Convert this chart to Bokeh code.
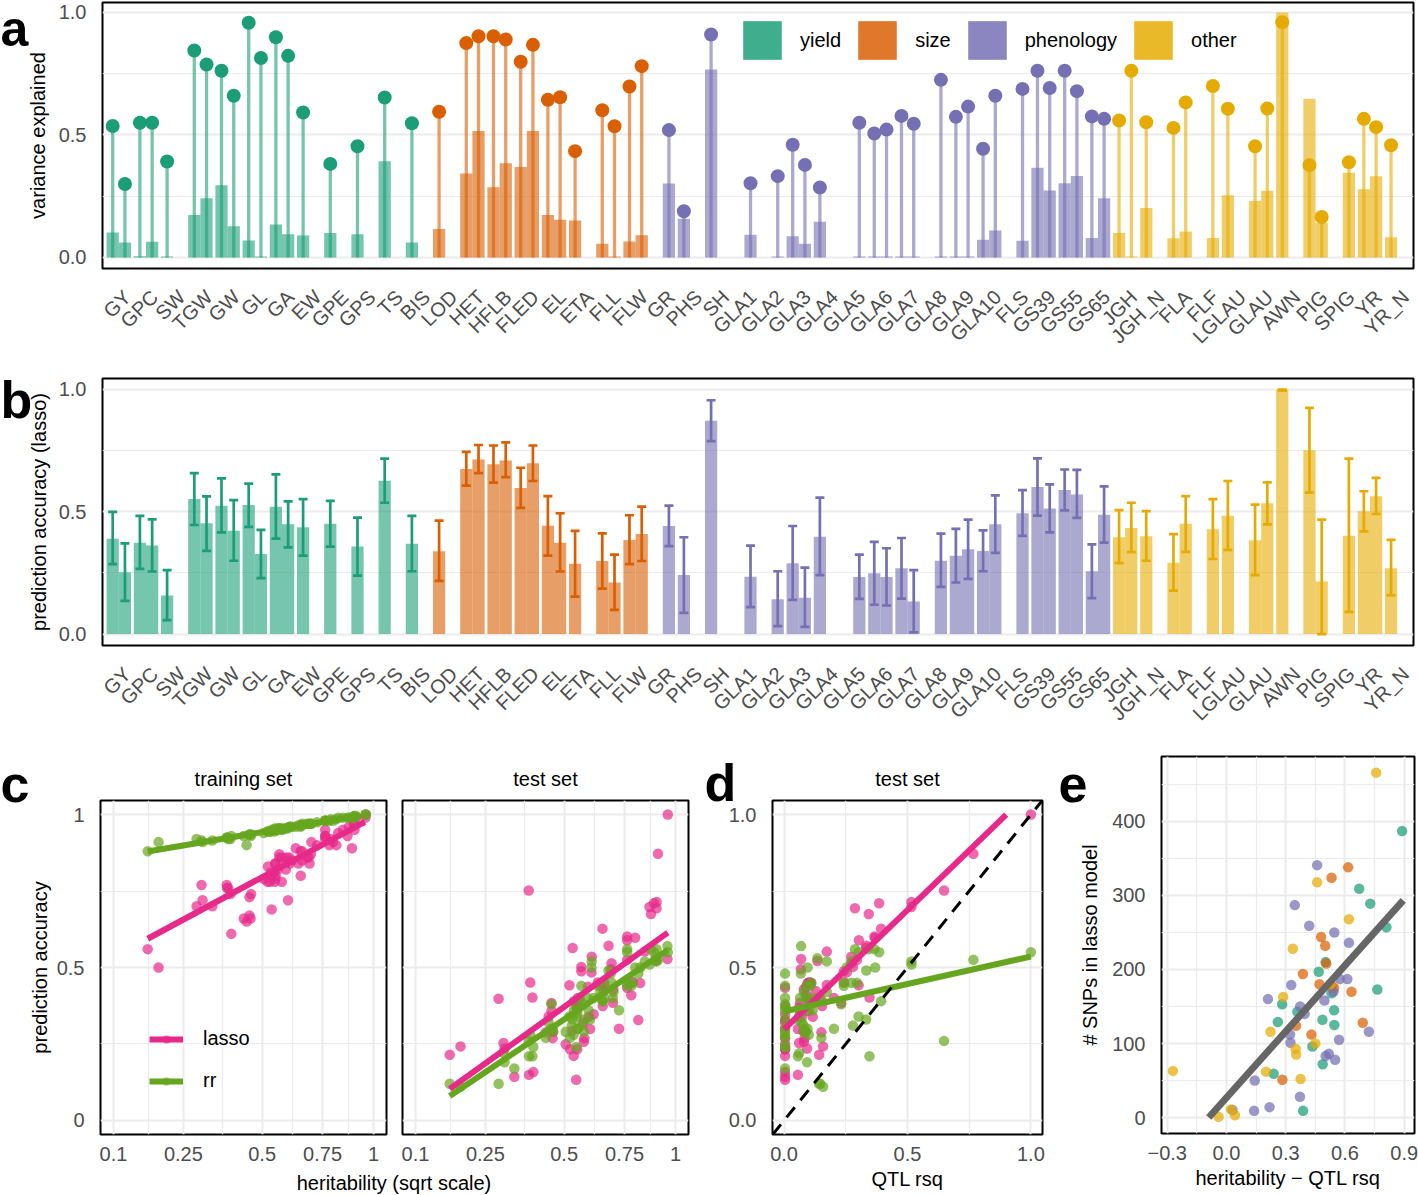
import numpy as np
from bokeh.plotting import figure
from bokeh.models import (ColumnDataSource, Range1d, FixedTicker, Label, Slope, Legend, LegendItem)
from bokeh.layouts import column, row
from bokeh.embed import file_html
from bokeh.resources import INLINE

N = None  # replicate not available

# ---------------- data ----------------
traits = ["GY", "GPC", "SW", "TGW", "GW", "GL", "GA", "EW", "GPE", "GPS", "TS", "BIS",
          "LOD", "HET", "HFLB", "FLED", "EL", "ETA", "FLL", "FLW",
          "GR", "PHS", "SH", "GLA1", "GLA2", "GLA3", "GLA4", "GLA5", "GLA6", "GLA7", "GLA8",
          "GLA9", "GLA10", "FLS", "GS39", "GS55", "GS65",
          "JGH", "JGH_N", "FLA", "FLF", "LGLAU", "GLAU", "AWN", "PIG", "SPIG", "YR", "YR_N"]
trait_group = ["yield"] * 12 + ["size"] * 8 + ["phenology"] * 17 + ["other"] * 11
groups = ["yield", "size", "phenology", "other"]

# heritability (variance explained, lollipops), replicate 1 and 2
herit_r1 = [0.537, 0.55, 0.392, 0.845, 0.762, 0.958, 0.899, 0.592, 0.382, 0.454, 0.653, 0.548,
            0.595, 0.875, 0.903, 0.799, 0.644, 0.434, 0.601, 0.698,
            N, 0.189, 0.91, N, N, 0.46, 0.286, N, 0.506, 0.578, N, 0.574, 0.444, N, 0.762, 0.762, 0.576,
            0.559, 0.552, 0.529, N, 0.607, 0.454, 0.96, 0.377, N, 0.566, 0.458]
herit_r2 = [0.30, 0.55, N, 0.788, 0.66, 0.814, 0.823, N, N, N, N, N,
            N, 0.903, 0.89, 0.868, 0.654, N, 0.536, 0.781,
            0.52, N, N, 0.303, 0.332, 0.378, N, 0.55, 0.522, 0.546, 0.725, 0.616, 0.66, 0.688, 0.692, 0.679, 0.566,
            0.762, N, 0.633, 0.70, N, 0.608, N, 0.165, 0.389, 0.532, N]
# QTL rsq (bars in a)
qtl_r1 = [0.102, 0.005, 0.004, 0.173, 0.295, 0.069, 0.135, 0.09, 0.10, 0.095, 0.393, 0.061,
          0.116, 0.343, 0.287, 0.369, 0.173, 0.151, 0.056, 0.065,
          N, 0.158, 0.767, N, N, 0.087, 0.146, N, 0.004, 0.004, N, 0.004, 0.072, N, 0.366, 0.303, 0.08,
          0.10, 0.202, 0.079, N, 0.254, 0.231, 1.0, 0.648, N, 0.279, 0.083]
qtl_r2 = [0.061, 0.064, N, 0.242, 0.128, 0.004, 0.095, N, N, N, N, N,
          N, 0.516, 0.385, 0.516, 0.154, N, 0.004, 0.091,
          0.302, N, N, 0.093, 0.004, 0.056, N, 0.004, 0.004, 0.004, 0.004, 0.004, 0.11, 0.068, 0.273, 0.333, 0.242,
          0.004, N, 0.106, 0.08, N, 0.272, N, 0.142, 0.346, 0.332, N]
# lasso test-set prediction accuracy with interval (b)
acc_r1 = [0.39, 0.374, 0.158, 0.552, 0.525, 0.528, 0.521, 0.437, 0.451, 0.358, 0.627, 0.369,
          0.339, 0.675, 0.694, 0.597, 0.443, 0.288, 0.299, 0.385,
          N, 0.242, 0.872, N, N, 0.29, 0.398, N, 0.249, 0.269, N, 0.32, 0.34, N, 0.601, 0.589, 0.257,
          0.396, 0.40, 0.292, N, 0.484, 0.384, 1.0, 0.752, N, 0.502, 0.269]
acc_lo_r1 = [0.286, 0.267, 0.057, 0.446, 0.416, 0.438, 0.39, 0.321, 0.358, 0.239, 0.537, 0.257,
             0.218, 0.607, 0.619, 0.516, 0.321, 0.153, 0.186, 0.286,
             N, 0.087, 0.789, N, N, 0.14, 0.241, N, 0.12, 0.145, N, 0.211, 0.257, N, 0.484, 0.506, 0.147,
             0.29, 0.30, 0.178, N, 0.344, 0.241, 0.995, 0.578, N, 0.42, 0.158]
acc_hi_r1 = [0.50, 0.483, 0.262, 0.658, 0.637, 0.615, 0.653, 0.552, 0.545, 0.476, 0.717, 0.483,
             0.464, 0.745, 0.771, 0.68, 0.564, 0.422, 0.412, 0.486,
             N, 0.396, 0.956, N, N, 0.442, 0.558, N, 0.377, 0.393, N, 0.43, 0.424, N, 0.718, 0.673, 0.367,
             0.507, 0.503, 0.409, N, 0.626, 0.529, 1.0, 0.925, N, 0.584, 0.385]
acc_r2 = [0.253, 0.362, N, 0.453, 0.423, 0.328, 0.449, N, N, N, N, N,
          N, 0.714, 0.71, 0.698, 0.374, N, 0.211, 0.409,
          0.442, N, N, 0.235, 0.143, 0.149, N, 0.233, 0.233, 0.133, 0.30, 0.347, 0.449, 0.494, 0.514, 0.571, 0.488,
          0.434, N, 0.451, 0.429, N, 0.535, N, 0.215, 0.402, 0.564, N]
acc_lo_r2 = [0.136, 0.256, N, 0.34, 0.30, 0.229, 0.355, N, N, N, N, N,
             N, 0.658, 0.642, 0.626, 0.256, N, 0.099, 0.299,
             0.36, N, N, 0.11, 0.033, 0.03, N, 0.144, 0.117, 0.007, 0.193, 0.226, 0.332, 0.402, 0.416, 0.475, 0.374,
             0.335, N, 0.336, 0.307, N, 0.449, N, 0.0, 0.091, 0.491, N]
acc_hi_r2 = [0.371, 0.469, N, 0.563, 0.548, 0.426, 0.543, N, N, N, N, N,
             N, 0.773, 0.784, 0.771, 0.494, N, 0.325, 0.521,
             0.525, N, N, 0.362, 0.257, 0.272, N, 0.325, 0.351, 0.262, 0.411, 0.468, 0.567, 0.589, 0.612, 0.671, 0.604,
             0.537, N, 0.564, 0.552, N, 0.62, N, 0.468, 0.717, 0.639, N]
# ridge regression test-set accuracy
rr_test_r1 = [0.36, 0.37, 0.24, 0.52, 0.45, 0.57, 0.53, 0.40, 0.28, 0.30, 0.39, 0.34,
              0.36, 0.56, 0.56, 0.50, 0.42, 0.27, 0.33, 0.40,
              N, 0.11, 0.525, N, N, 0.29, 0.12, N, 0.29, 0.33, N, 0.38, 0.32, N, 0.56, 0.55, 0.29,
              0.40, 0.30, 0.31, N, 0.50, 0.38, 0.55, 0.26, N, 0.31, 0.30]
rr_test_r2 = [0.22, 0.35, N, 0.45, 0.40, 0.48, 0.50, N, N, N, N, N,
              N, 0.52, 0.55, 0.51, 0.39, N, 0.28, 0.44,
              0.34, N, N, 0.19, 0.17, 0.21, N, 0.30, 0.27, 0.24, 0.36, 0.40, 0.45, 0.48, 0.45, 0.49, 0.44,
              0.44, N, 0.44, 0.42, N, 0.52, N, 0.12, 0.21, 0.33, N]
# training-set accuracy
lasso_train_r1 = [0.80, 0.84, 0.61, 0.95, 0.93, 0.99, 0.97, 0.82, 0.76, 0.67, 0.88, 0.78,
                  0.86, 0.96, 0.95, 0.91, 0.84, 0.66, 0.72, 0.87,
                  N, 0.50, 0.99, N, N, 0.74, 0.70, N, 0.79, 0.86, N, 0.84, 0.65, N, 0.93, 0.92, 0.78,
                  0.82, 0.80, 0.78, N, 0.86, 0.73, 1.0, 0.77, N, 0.86, 0.66]
lasso_train_r2 = [0.77, 0.79, N, 0.92, 0.85, 0.90, 0.94, N, N, N, N, N,
                  N, 0.97, 0.89, 0.93, 0.80, N, 0.69, 0.90,
                  0.78, N, N, 0.72, 0.70, 0.76, N, 0.84, 0.83, 0.81, 0.90, 0.85, 0.88, 0.86, 0.84, 0.86, 0.87,
                  0.95, N, 0.89, 0.91, N, 0.84, N, 0.56, 0.74, 0.81, N]
rr_train_r1 = [0.95, 0.955, 0.93, 0.99, 0.98, 1.0, 0.995, 0.955, 0.92, 0.935, 0.96, 0.95,
               0.955, 0.99, 0.99, 0.98, 0.965, 0.93, 0.955, 0.97,
               N, 0.91, 0.995, N, N, 0.935, 0.92, N, 0.94, 0.95, N, 0.95, 0.90, N, 0.98, 0.98, 0.955,
               0.95, 0.95, 0.945, N, 0.96, 0.935, 1.0, 0.925, N, 0.955, 0.93]
rr_train_r2 = [0.915, 0.95, N, 0.985, 0.97, 0.985, 0.99, N, N, N, N, N,
               N, 0.995, 0.99, 0.99, 0.965, N, 0.945, 0.98,
               0.945, N, N, 0.91, 0.915, 0.925, N, 0.945, 0.945, 0.95, 0.975, 0.96, 0.965, 0.97, 0.97, 0.97, 0.955,
               0.98, N, 0.96, 0.97, N, 0.96, N, 0.88, 0.92, 0.945, N]
# number of SNPs selected in the lasso model
n_snps_r1 = [96, 145, 9, 309, 197, 387, 173, 210, 153, 143, 129, 72,
             244, 324, 338, 112, 180, 51, 175, 170,
             N, 10, 50, N, N, 150, 9, N, 83, 187, N, 105, 28, N, 140, 341, 158,
             318, 93, 100, N, 85, 116, 1, 63, N, 163, 52]
n_snps_r2 = [59, 132, N, 125, 168, 257, 289, N, N, N, N, N,
             N, 194, 208, 124, 232, N, 178, 128,
             14, N, N, 160, 179, 112, N, 250, 86, 170, 116, 187, 78, 236, 259, 287, 101,
             466, N, 180, 268, N, 228, N, 11, 3, 62, N]

# fitted regression lines (end points)
train_fit_h = [0.165, 0.955]
train_fit_lasso = [0.594, 0.976]
train_fit_h_rr = [0.165, 0.93]
train_fit_rr = [0.879, 0.997]
test_fit_h = [0.165, 0.96]
test_fit_lasso = [0.103, 0.614]
test_fit_rr = [0.080, 0.557]
qtl_fit_x_lasso = [0.0, 0.9]
qtl_fit_lasso = [0.298, 1.0]
qtl_fit_x_rr = [0.0, 1.0]
qtl_fit_rr = [0.356, 0.536]
snp_fit_x = [-0.09, 0.895]
snp_fit_y = [0.0, 293.5]

# ---------------- styling ----------------
FONT = "Liberation Sans"
DARK = {"yield": "#1B9E77", "size": "#D95F02", "phenology": "#7570B3", "other": "#E6AB02"}
PINK = "#E7298A"
GREEN = "#66A61E"
GRID = "#EBEBEB"
PAGE_W, PAGE_H = 1418, 1195


def A(x):
    return np.array(x, dtype=float)


def style_axis(ax):
    ax.axis_line_color = None
    ax.major_tick_line_color = None
    ax.minor_tick_line_color = None
    ax.major_tick_out = 0
    ax.major_tick_in = 0
    ax.minor_tick_out = 0
    ax.minor_tick_in = 0
    ax.major_label_text_font = FONT
    ax.major_label_text_font_size = "20px"
    ax.major_label_text_color = "#4D4D4D"
    ax.axis_label_text_font = FONT
    ax.axis_label_text_font_size = "20px"
    ax.axis_label_text_font_style = "normal"
    ax.axis_label_text_color = "black"


def style(p, xgrid=True):
    p.outline_line_color = "black"
    p.outline_line_width = 2
    p.outline_line_alpha = 1
    p.background_fill_color = "white"
    for ax in p.axis:
        style_axis(ax)
    p.ygrid.grid_line_color = GRID
    p.ygrid.grid_line_width = 2
    p.ygrid.minor_grid_line_color = GRID
    p.ygrid.minor_grid_line_width = 1.2
    if xgrid:
        p.xgrid.grid_line_color = GRID
        p.xgrid.grid_line_width = 2
        p.xgrid.minor_grid_line_color = GRID
        p.xgrid.minor_grid_line_width = 1.2
    else:
        p.xgrid.grid_line_color = None


def unit_ticker():
    return FixedTicker(ticks=[0, 0.5, 1.0], minor_ticks=[0.25, 0.75])


# trait slots: each trait occupies one unit; two replicates side by side (dodged)
NT = len(traits)
trait_pos = np.arange(NT) + 0.5
OFF = 0.225
W = 0.45
LAB_SHIFT = 0.31   # rotated labels end slightly to the right of each trait centre


def group_sources(cols):
    out = []
    for r in range(2):
        for g in groups:
            idx = [i for i in range(NT) if trait_group[i] == g]
            d = {"x": trait_pos[idx] + (-OFF if r == 0 else OFF)}
            for k, (v1, v2) in cols.items():
                d[k] = A(v1 if r == 0 else v2)[idx]
            out.append((r, g, ColumnDataSource(d)))
    return out


def trait_axis(p):
    ticks = [float(t + LAB_SHIFT) for t in trait_pos]
    ax = p.xaxis[0]
    ax.ticker = FixedTicker(ticks=ticks)
    ax.major_label_overrides = {t: name for t, name in zip(ticks, traits)}
    ax.major_label_orientation = np.pi / 4
    ax.major_label_standoff = 25


bar_x_range = Range1d(-0.1, NT + 0.1)

# ---------------- panel a ----------------
pa = figure(width=PAGE_W, height=370, x_range=bar_x_range,
            y_range=Range1d(-0.0449, 1.0408), output_backend="svg", toolbar_location=None,
            min_border_left=102, min_border_right=5, min_border_top=2, min_border_bottom=102)
style(pa, xgrid=False)
trait_axis(pa)
pa.yaxis.ticker = unit_ticker()
pa.yaxis.major_label_overrides = {0: "0.0", 0.5: "0.5", 1: "1.0"}
pa.yaxis.major_label_standoff = 16
pa.yaxis.axis_label = "variance explained"
pa.yaxis.axis_label_standoff = 7

srcs_a = group_sources({"herit": (herit_r1, herit_r2), "qtl": (qtl_r1, qtl_r2)})
for r, g, src in srcs_a:
    pa.vbar(x="x", top="qtl", bottom=0, width=W, source=src, fill_color=DARK[g], fill_alpha=0.6,
            line_color=None, legend_label=g)
for r, g, src in srcs_a:
    pa.segment(x0="x", y0=0, x1="x", y1="herit", source=src, line_color=DARK[g], line_alpha=0.6,
               line_width=3.3)
for r, g, src in srcs_a:
    pa.scatter(x="x", y="herit", source=src, size=14, fill_color=DARK[g], line_color=None)

lg = pa.legend[0]
lg.location = (636, 204)
lg.orientation = "horizontal"
lg.glyph_width = 48
lg.glyph_height = 48
lg.label_height = 48
lg.label_standoff = 14
lg.spacing = 12
lg.padding = 0
lg.margin = 0
lg.border_line_color = None
lg.background_fill_alpha = 0
lg.label_text_font = FONT
lg.label_text_font_size = "20px"
lg.label_text_color = "black"

# ---------------- panel b ----------------
pb = figure(width=PAGE_W, height=375, x_range=bar_x_range,
            y_range=Range1d(-0.0465, 1.0449), output_backend="svg", toolbar_location=None,
            min_border_left=102, min_border_right=5, min_border_top=8, min_border_bottom=100)
style(pb, xgrid=False)
trait_axis(pb)
pb.yaxis.ticker = unit_ticker()
pb.yaxis.major_label_overrides = {0: "0.0", 0.5: "0.5", 1: "1.0"}
pb.yaxis.major_label_standoff = 16
pb.yaxis.axis_label = "prediction accuracy (lasso)"
pb.yaxis.axis_label_standoff = 6

srcs_b = group_sources({"acc": (acc_r1, acc_r2), "lo": (acc_lo_r1, acc_lo_r2),
                        "hi": (acc_hi_r1, acc_hi_r2)})
for r, g, src in srcs_b:
    pb.vbar(x="x", top="acc", bottom=0, width=W, source=src, fill_color=DARK[g], fill_alpha=0.6,
            line_color=None)
for r, g, src in srcs_b:
    pb.segment(x0="x", y0="lo", x1="x", y1="hi", source=src, line_color=DARK[g], line_width=2.7)
    pb.scatter(x="x", y="lo", source=src, marker="dash", size=9, line_color=DARK[g], line_width=2.7)
    pb.scatter(x="x", y="hi", source=src, marker="dash", size=9, line_color=DARK[g], line_width=2.7)

# ---------------- long-format data for c, d, e ----------------
h_all = np.concatenate([A(herit_r1), A(herit_r2)])
q_all = np.concatenate([A(qtl_r1), A(qtl_r2)])
acc_all = np.concatenate([A(acc_r1), A(acc_r2)])
rrt_all = np.concatenate([A(rr_test_r1), A(rr_test_r2)])
lt_all = np.concatenate([A(lasso_train_r1), A(lasso_train_r2)])
rt_all = np.concatenate([A(rr_train_r1), A(rr_train_r2)])
ns_all = np.concatenate([A(n_snps_r1), A(n_snps_r2)])
grp_all = np.array(trait_group + trait_group)
ok = np.isfinite(h_all)
h_all, q_all, acc_all, rrt_all, lt_all, rt_all, ns_all, grp_all = (
    v[ok] for v in (h_all, q_all, acc_all, rrt_all, lt_all, rt_all, ns_all, grp_all))
s_all = np.sqrt(h_all)

S_LO = np.sqrt(0.1) - 0.05 * (1 - np.sqrt(0.1))
S_HI = 1 + 0.05 * (1 - np.sqrt(0.1))
sq_ticks = [float(np.sqrt(v)) for v in (0.1, 0.25, 0.5, 0.75, 1.0)]
sq_minor = [(sq_ticks[i] + sq_ticks[i + 1]) / 2 for i in range(4)]
sq_labels = {t: l for t, l in zip(sq_ticks, ["0.1", "0.25", "0.5", "0.75", "1"])}

PT = 10.5
PA = 0.7


def acc_fig(width, left, right):
    p = figure(width=width, height=450, x_range=Range1d(S_LO, S_HI), y_range=Range1d(-0.046, 1.046),
               output_backend="svg", toolbar_location=None, min_border_left=left,
               min_border_right=right, min_border_top=55, min_border_bottom=61)
    style(p)
    p.xaxis.ticker = FixedTicker(ticks=sq_ticks, minor_ticks=sq_minor)
    p.xgrid.ticker = FixedTicker(ticks=sq_ticks, minor_ticks=sq_minor)
    p.xaxis.major_label_overrides = sq_labels
    p.xaxis.major_label_standoff = 12
    p.yaxis.ticker = unit_ticker()
    p.ygrid.ticker = unit_ticker()
    p.yaxis.major_label_overrides = {0: "0", 0.5: "0.5", 1: "1"}
    p.yaxis.major_label_standoff = 16
    return p


# ---------------- panel c: training set ----------------
pc1 = acc_fig(394, 100, 8)
pc1.yaxis.axis_label = "prediction accuracy"
pc1.yaxis.axis_label_standoff = 3
c1_l = pc1.scatter(s_all, lt_all, size=PT, fill_color=PINK, fill_alpha=PA, line_color=None)
c1_r = pc1.scatter(s_all, rt_all, size=PT, fill_color=GREEN, fill_alpha=PA, line_color=None)
l1_l = pc1.line(np.sqrt(train_fit_h), train_fit_lasso, line_color=PINK, line_width=6)
l1_r = pc1.line(np.sqrt(train_fit_h_rr), train_fit_rr, line_color=GREEN, line_width=6)
leg_c = Legend(items=[LegendItem(label="lasso", renderers=[l1_l, c1_l]),
                      LegendItem(label="rr", renderers=[l1_r, c1_r])],
               location=(49, 42), orientation="vertical", glyph_width=34, glyph_height=20,
               label_height=20, label_standoff=20, spacing=19, padding=0, margin=0,
               border_line_color=None, background_fill_alpha=0, label_text_font=FONT,
               label_text_font_size="20px", label_text_color="black")
pc1.add_layout(leg_c)

# ---------------- panel c: test set ----------------
pc2 = acc_fig(306, 8, 12)
pc2.yaxis.visible = False
pc2.scatter(s_all, acc_all, size=PT, fill_color=PINK, fill_alpha=PA, line_color=None)
pc2.scatter(s_all, rrt_all, size=PT, fill_color=GREEN, fill_alpha=PA, line_color=None)
pc2.line(np.sqrt(test_fit_h), test_fit_lasso, line_color=PINK, line_width=6)
pc2.line(np.sqrt(test_fit_h), test_fit_rr, line_color=GREEN, line_width=6)

# ---------------- panel d ----------------
pd_ = figure(width=358, height=450, x_range=Range1d(-0.047, 1.047), y_range=Range1d(-0.046, 1.046),
             output_backend="svg", toolbar_location=None, min_border_left=72, min_border_right=16,
             min_border_top=55, min_border_bottom=61)
style(pd_)
pd_.xaxis.ticker = unit_ticker()
pd_.yaxis.ticker = unit_ticker()
pd_.xaxis.major_label_overrides = {0: "0.0", 0.5: "0.5", 1: "1.0"}
pd_.yaxis.major_label_overrides = {0: "0.0", 0.5: "0.5", 1: "1.0"}
pd_.xaxis.major_label_standoff = 12
pd_.yaxis.major_label_standoff = 16
pd_.xaxis.axis_label = "QTL rsq"
pd_.xaxis.axis_label_standoff = 4
pd_.scatter(q_all, acc_all, size=PT, fill_color=PINK, fill_alpha=PA, line_color=None)
pd_.scatter(q_all, rrt_all, size=PT, fill_color=GREEN, fill_alpha=PA, line_color=None)
pd_.line(qtl_fit_x_lasso, qtl_fit_lasso, line_color=PINK, line_width=6)
pd_.line(qtl_fit_x_rr, qtl_fit_rr, line_color=GREEN, line_width=6)
pd_.add_layout(Slope(gradient=1, y_intercept=0, line_color="black", line_width=3, line_dash="13 9"))

# ---------------- panel e ----------------
pe = figure(width=360, height=450, x_range=Range1d(-0.329, 0.952), y_range=Range1d(-21.6, 487.8),
            output_backend="svg", toolbar_location=None, min_border_left=103, min_border_right=4,
            min_border_top=11, min_border_bottom=62)
style(pe)
pe.xaxis.ticker = FixedTicker(ticks=[-0.3, 0.0, 0.3, 0.6, 0.9], minor_ticks=[-0.15, 0.15, 0.45, 0.75])
pe.yaxis.ticker = FixedTicker(ticks=[0, 100, 200, 300, 400], minor_ticks=[50, 150, 250, 350, 450])
pe.xaxis.major_label_overrides = {-0.3: "\u22120.3", 0.0: "0.0", 0.3: "0.3", 0.6: "0.6", 0.9: "0.9"}
pe.xaxis.major_label_standoff = 12
pe.yaxis.major_label_standoff = 16
pe.xaxis.axis_label = "heritability \u2212 QTL rsq"
pe.xaxis.axis_label_standoff = 4
pe.yaxis.axis_label = "# SNPs in lasso model"
pe.yaxis.axis_label_standoff = 8
for g in groups:
    m = grp_all == g
    pe.scatter((h_all - q_all)[m], ns_all[m], size=PT, fill_color=DARK[g], fill_alpha=0.72,
               line_color=None)
pe.line(snp_fit_x, snp_fit_y, line_color="#666666", line_width=7)

# ---------------- free texts (panel letters, facet strips, shared axis title) ----------------
# transparent overlay covering the page; its frame is the whole canvas, so texts are not clipped
ov = figure(width=PAGE_W, height=PAGE_H, x_range=Range1d(0, PAGE_W), y_range=Range1d(0, PAGE_H),
            output_backend="svg", toolbar_location=None, min_border=0,
            min_border_left=0, min_border_right=0, min_border_top=0, min_border_bottom=0,
            x_axis_type=None, y_axis_type=None)
ov.outline_line_color = None
ov.background_fill_alpha = 0
ov.border_fill_alpha = 0
ov.grid.visible = False


def page_text(txt, x, baseline, size=20, bold=False, align="left"):
    # text is vertically centred on its em box: centre lies ~0.35 em above the baseline
    ov.add_layout(Label(x=x, y=PAGE_H - (baseline - 0.35 * size), x_units="screen", y_units="screen",
                        text=txt, text_font=FONT, text_font_size=f"{size}px",
                        text_font_style="bold" if bold else "normal", text_color="black",
                        text_align=align, text_baseline="middle"))


for txt, x, base, sz in [("a", 0, 45.5, 50), ("b", 0, 418, 52), ("c", 0, 801.5, 52),
                         ("d", 704, 800.5, 52), ("e", 1058, 801.5, 52)]:
    page_text(txt, x, base, size=sz, bold=True)
page_text("training set", 243, 785, align="center")
page_text("test set", 545, 785, align="center")
page_text("test set", 907, 785, align="center")
page_text("heritability (sqrt scale)", 393.5, 1189.5, align="center")

# wrap plots in their own containers so that Bokeh does not align their frames
ov_box = column(ov)
ov_box.margin = (-PAGE_H, 0, 0, 0)
bottom = row(column(pc1), column(pc2), column(pd_), column(pe))
layout = column(column(pa, pb), bottom, ov_box)
open("out.html", "w").write(file_html(layout, INLINE))
